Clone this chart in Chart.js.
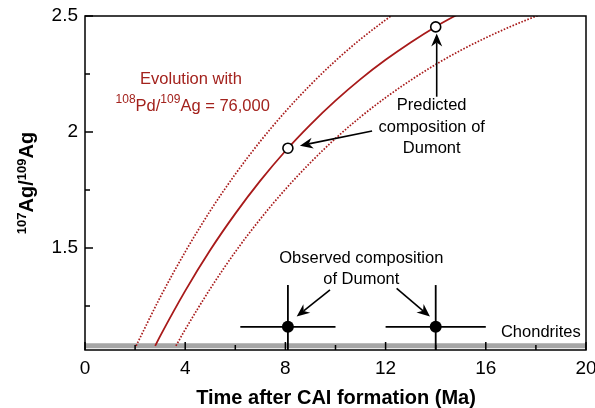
<!DOCTYPE html>
<html>
<head>
<meta charset="utf-8">
<script src="https://cdn.jsdelivr.net/npm/chart.js@4"></script>
<style>
  html, body { margin: 0; padding: 0; background: #fff; }
  #wrap { width: 595px; height: 408px; }
</style>
</head>
<body>
<div id="wrap"><canvas id="agChart" width="595" height="408"></canvas></div>
<script>
// evolution curves (time in Ma, 107Ag/109Ag)
const solidX = [2.8, 3, 4, 5, 6, 7, 8, 9, 10, 11, 12, 13, 14, 15];
const solidY = [1.078, 1.12, 1.315, 1.491, 1.648, 1.79, 1.918, 2.032, 2.135, 2.228, 2.311, 2.386, 2.454, 2.514];
const lowX = [2.04, 3, 4, 5, 6, 7, 8, 9, 10, 11, 12, 12.5];
const lowY = [1.078, 1.287, 1.483, 1.66, 1.818, 1.96, 2.088, 2.203, 2.307, 2.4, 2.483, 2.522];
const highX = [3.63, 4, 5, 6, 7, 8, 9, 10, 11, 12, 13, 14, 15, 16, 17, 18, 18.5];
const highY = [1.078, 1.148, 1.324, 1.483, 1.625, 1.753, 1.868, 1.972, 2.065, 2.148, 2.223, 2.291, 2.352, 2.406, 2.455, 2.499, 2.52];

// predicted (open) and observed (filled, with errors) Dumont compositions
const predX = [8.1, 14.0];
const predY = [1.93, 2.453];
const obsX = [8.1, 14.0];
const obsY = [1.16, 1.16];
const obsXErr = [1.9, 2.0];
const obsYErr = [0.18, 0.18];

// chondritic value
const chondriteY = 1.078;

// axes
const xTicks = [0, 4, 8, 12, 16, 20];
const xMinor = [2, 6, 10, 14, 18];
const yTicks = [1.5, 2, 2.5];
const yMinor = [1.25, 1.75, 2.25];

const RED = '#a81a1a';
const TXT_RED = '#a3221d';
const FONT = "'Liberation Sans', Arial, sans-serif";

const pts = (xs, ys) => xs.map((v, i) => ({ x: v, y: ys[i] }));

let datasets = [
    {
        data: pts(solidX, solidY),
        showLine: true, borderColor: RED, borderWidth: 1.8,
        pointRadius: 0, cubicInterpolationMode: 'monotone', order: 2
    },
    {
        data: pts(lowX, lowY),
        showLine: true, borderColor: RED, borderWidth: 1.7, borderDash: [1.6, 1.6],
        pointRadius: 0, cubicInterpolationMode: 'monotone', order: 2
    },
    {
        data: pts(highX, highY),
        showLine: true, borderColor: RED, borderWidth: 1.7, borderDash: [1.6, 1.6],
        pointRadius: 0, cubicInterpolationMode: 'monotone', order: 2
    },
    {
        data: pts(predX, predY),
        showLine: false, pointRadius: 5, pointBackgroundColor: '#fff',
        pointBorderColor: '#000', pointBorderWidth: 1.6, order: 0
    },
    {
        data: pts(obsX, obsY),
        showLine: false, pointRadius: 6, pointBackgroundColor: '#000',
        pointBorderColor: '#000', pointBorderWidth: 0, order: 0
    },
    {
        data: [{ x: 0, y: chondriteY }, { x: 20, y: chondriteY }],
        showLine: true, borderColor: '#a6a6a6', borderWidth: 5,
        pointRadius: 0, order: 5
    }
];

// error bars
obsX.forEach((v, i) => {
    datasets.push({
        data: [{ x: v - obsXErr[i], y: obsY[i] }, { x: v + obsXErr[i], y: obsY[i] }],
        showLine: true, borderColor: '#000', borderWidth: 1.8, pointRadius: 0, order: 1
    });
    datasets.push({
        data: [{ x: v, y: obsY[i] - obsYErr[i] }, { x: v, y: obsY[i] + obsYErr[i] }],
        showLine: true, borderColor: '#000', borderWidth: 1.8, pointRadius: 0, order: 1
    });
});

function arrow(ctx, x1, y1, x2, y2) {
    const ang = Math.atan2(y2 - y1, x2 - x1);
    const len = 13, wid = 5.5, notch = 9;
    const bx = x2 - Math.cos(ang) * notch, by = y2 - Math.sin(ang) * notch;
    ctx.beginPath();
    ctx.moveTo(x1, y1);
    ctx.lineTo(bx, by);
    ctx.stroke();
    const cx = x2 - Math.cos(ang) * len, cy = y2 - Math.sin(ang) * len;
    const nx = -Math.sin(ang) * wid, ny = Math.cos(ang) * wid;
    ctx.beginPath();
    ctx.moveTo(x2, y2);
    ctx.lineTo(cx + nx, cy + ny);
    ctx.lineTo(bx, by);
    ctx.lineTo(cx - nx, cy - ny);
    ctx.closePath();
    ctx.fill();
}

// draws text pieces with superscripts, centred on cx
function supText(ctx, parts, cx, cy, size, supSize, raise, weight) {
    let w = 0;
    parts.forEach(p => {
        ctx.font = weight + ' ' + (p[1] ? supSize : size) + 'px ' + FONT;
        w += ctx.measureText(p[0]).width;
    });
    let px = cx - w / 2;
    ctx.textAlign = 'left';
    ctx.textBaseline = 'alphabetic';
    parts.forEach(p => {
        ctx.font = weight + ' ' + (p[1] ? supSize : size) + 'px ' + FONT;
        ctx.fillText(p[0], px, p[1] ? cy - raise : cy);
        px += ctx.measureText(p[0]).width;
    });
}

const overlay = {
    id: 'overlay',
    afterDatasetsDraw(chart) {
        const ctx = chart.ctx;
        const a = chart.chartArea;
        const x = chart.scales.x, y = chart.scales.y;
        const X = v => x.getPixelForValue(v), Y = v => y.getPixelForValue(v);
        ctx.save();

        // frame + inward ticks
        ctx.strokeStyle = '#000';
        ctx.lineWidth = 1.5;
        ctx.strokeRect(a.left, a.top, a.right - a.left, a.bottom - a.top);
        ctx.beginPath();
        xTicks.forEach(v => { ctx.moveTo(X(v), a.bottom); ctx.lineTo(X(v), a.bottom - 8); });
        xMinor.forEach(v => { ctx.moveTo(X(v), a.bottom); ctx.lineTo(X(v), a.bottom - 5); });
        yTicks.forEach(v => { ctx.moveTo(a.left, Y(v)); ctx.lineTo(a.left + 8, Y(v)); });
        yMinor.forEach(v => { ctx.moveTo(a.left, Y(v)); ctx.lineTo(a.left + 5, Y(v)); });
        ctx.stroke();

        // arrows
        ctx.fillStyle = '#000';
        ctx.lineWidth = 1.6;
        arrow(ctx, X(11.46), Y(2.004), X(8.58), Y(1.941));
        arrow(ctx, X(14.04), Y(2.152), X(14.04), Y(2.425));
        arrow(ctx, X(9.78), Y(1.319), X(8.45), Y(1.204));
        arrow(ctx, X(12.44), Y(1.326), X(13.77), Y(1.204));

        // annotations
        ctx.font = '16.5px ' + FONT;
        ctx.textAlign = 'center';
        ctx.textBaseline = 'middle';
        ctx.fillText('Predicted', X(13.84), Y(2.116));
        ctx.fillText('composition of', X(13.84), Y(2.02));
        ctx.fillText('Dumont', X(13.84), Y(1.927));
        ctx.fillText('Observed composition', X(11.03), Y(1.453));
        ctx.fillText('of Dumont', X(11.03), Y(1.362));
        ctx.textAlign = 'right';
        ctx.fillText('Chondrites', X(19.79), Y(1.135));

        ctx.fillStyle = TXT_RED;
        ctx.textAlign = 'center';
        ctx.fillText('Evolution with', X(4.23), Y(2.228));
        supText(ctx, [['108', true], ['Pd/', false], ['109', true], ['Ag = 76,000', false]],
            X(4.3), Y(2.09), 16.5, 12, 8, 'normal');

        // axis titles
        ctx.fillStyle = '#000';
        ctx.font = 'bold 20px ' + FONT;
        ctx.textAlign = 'center';
        ctx.textBaseline = 'alphabetic';
        ctx.fillText('Time after CAI formation (Ma)', 336, 404);
        ctx.save();
        ctx.translate(33, 183);
        ctx.rotate(-Math.PI / 2);
        supText(ctx, [['107', true], ['Ag/', false], ['109', true], ['Ag', false]], 0, 0, 20, 13, 7, 'bold');
        ctx.restore();

        ctx.restore();
    }
};

Chart.defaults.font.family = FONT;
Chart.defaults.color = '#000';

new Chart(document.getElementById('agChart'), {
    type: 'scatter',
    data: { datasets: datasets },
    options: {
        responsive: false,
        animation: false,
        layout: { padding: { top: 16, right: 9, left: 0, bottom: 0 } },
        plugins: { legend: { display: false }, tooltip: { enabled: false } },
        scales: {
            x: {
                type: 'linear', min: 0, max: 20,
                grid: { display: false, drawTicks: false },
                border: { display: false },
                afterBuildTicks: s => { s.ticks = xTicks.map(v => ({ value: v })); },
                afterFit: s => { s.height = 58; s.paddingLeft = 0; s.paddingRight = 0; },
                ticks: { padding: 7, font: { size: 19 }, color: '#000', maxRotation: 0 }
            },
            y: {
                type: 'linear', min: 1.06, max: 2.5,
                grid: { display: false, drawTicks: false },
                border: { display: false },
                afterBuildTicks: s => { s.ticks = yTicks.map(v => ({ value: v })); },
                afterFit: s => { s.width = 85; s.paddingTop = 0; s.paddingBottom = 0; },
                ticks: { padding: 7, font: { size: 19 }, color: '#000', callback: v => String(v) }
            }
        }
    },
    plugins: [overlay]
});
</script>
</body>
</html>
